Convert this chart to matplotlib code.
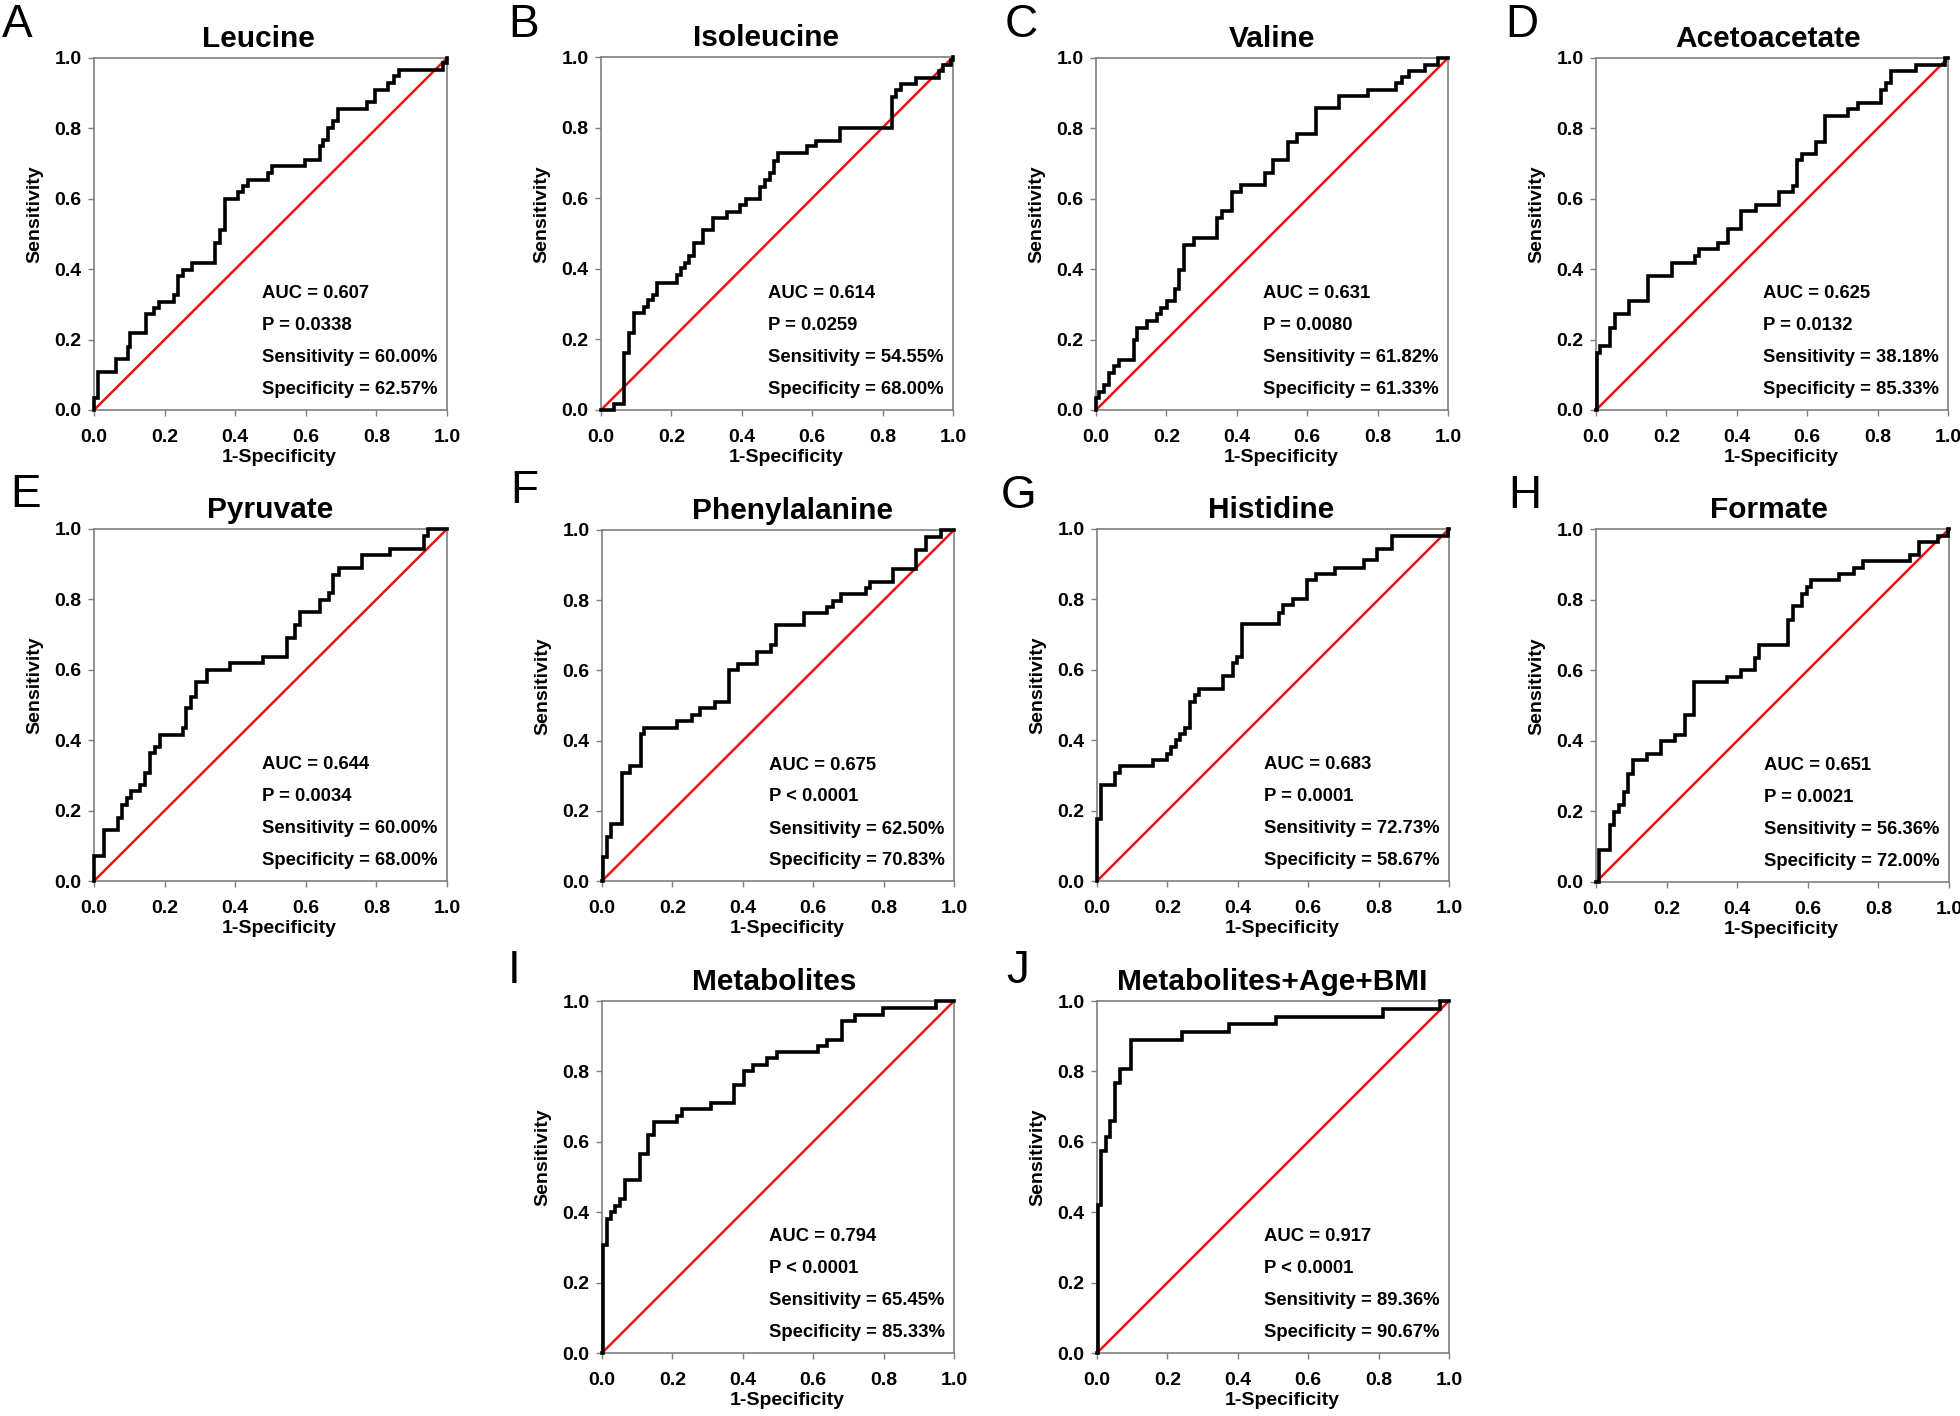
import matplotlib
matplotlib.use("Agg")
import matplotlib.pyplot as plt

plt.rcParams['font.family'] = ['Liberation Sans', 'DejaVu Sans']

# ---------------- data ----------------
letters = ["A", "B", "C", "D", "E", "F", "G", "H", "I", "J"]
titles = ["Leucine", "Isoleucine", "Valine", "Acetoacetate", "Pyruvate",
          "Phenylalanine", "Histidine", "Formate", "Metabolites",
          "Metabolites+Age+BMI"]
auc_values = ["0.607", "0.614", "0.631", "0.625", "0.644", "0.675", "0.683",
              "0.651", "0.794", "0.917"]
p_values = ["= 0.0338", "= 0.0259", "= 0.0080", "= 0.0132", "= 0.0034",
            "< 0.0001", "= 0.0001", "= 0.0021", "< 0.0001", "< 0.0001"]
sensitivity_values = ["60.00%", "54.55%", "61.82%", "38.18%", "60.00%",
                      "62.50%", "72.73%", "56.36%", "65.45%", "89.36%"]
specificity_values = ["62.57%", "68.00%", "61.33%", "85.33%", "68.00%",
                      "70.83%", "58.67%", "72.00%", "85.33%", "90.67%"]

leucine_fpr = [0, 0, 0.011, 0.063, 0.095, 0.103, 0.147, 0.169, 0.184, 0.226, 0.237,
               0.253, 0.279, 0.343, 0.357, 0.371, 0.409, 0.423, 0.437, 0.494, 0.503,
               0.598, 0.639, 0.650, 0.664, 0.676, 0.690, 0.773, 0.797, 0.834, 0.849,
               0.863, 0.990, 1.0]
leucine_tpr = [0, 0.033, 0.109, 0.144, 0.180, 0.218, 0.272, 0.289, 0.308, 0.327, 0.381,
               0.398, 0.417, 0.474, 0.512, 0.599, 0.618, 0.635, 0.654, 0.673, 0.692,
               0.709, 0.749, 0.768, 0.801, 0.820, 0.855, 0.874, 0.910, 0.929, 0.948,
               0.967, 0.986, 1.0]

isoleucine_fpr = [0, 0.037, 0.065, 0.080, 0.094, 0.122, 0.134, 0.149, 0.158, 0.215,
                  0.226, 0.238, 0.251, 0.264, 0.290, 0.317, 0.357, 0.396, 0.412, 0.453,
                  0.465, 0.480, 0.491, 0.503, 0.586, 0.612, 0.680, 0.828, 0.839, 0.853,
                  0.894, 0.960, 0.972, 0.995, 1.0]
isoleucine_tpr = [0, 0.017, 0.161, 0.217, 0.274, 0.293, 0.312, 0.326, 0.361, 0.383,
                  0.401, 0.416, 0.435, 0.473, 0.510, 0.543, 0.562, 0.581, 0.598, 0.633,
                  0.652, 0.671, 0.704, 0.728, 0.747, 0.761, 0.799, 0.887, 0.907, 0.924,
                  0.940, 0.959, 0.978, 0.992, 1.0]

valine_fpr = [0, 0, 0.0095, 0.022, 0.036, 0.050, 0.064, 0.107, 0.116, 0.145, 0.173,
              0.185, 0.201, 0.225, 0.237, 0.250, 0.277, 0.345, 0.359, 0.386, 0.411,
              0.480, 0.504, 0.546, 0.570, 0.625, 0.691, 0.773, 0.853, 0.868, 0.889,
              0.934, 0.972, 1.0]
valine_tpr = [0, 0.033, 0.050, 0.070, 0.106, 0.125, 0.142, 0.200, 0.234, 0.253, 0.272,
              0.290, 0.309, 0.344, 0.399, 0.470, 0.489, 0.546, 0.565, 0.619, 0.639,
              0.674, 0.709, 0.761, 0.783, 0.858, 0.891, 0.910, 0.929, 0.945, 0.964,
              0.981, 1.0, 1.0]

acetoacetate_fpr = [0, 0.003, 0.012, 0.041, 0.055, 0.095, 0.147, 0.215, 0.282, 0.293,
                    0.348, 0.374, 0.411, 0.455, 0.521, 0.559, 0.570, 0.584, 0.625, 0.650,
                    0.716, 0.745, 0.811, 0.825, 0.839, 0.908, 0.991, 1.0]
acetoacetate_tpr = [0, 0.163, 0.182, 0.234, 0.272, 0.309, 0.382, 0.418, 0.437, 0.456,
                    0.475, 0.513, 0.565, 0.582, 0.619, 0.636, 0.709, 0.728, 0.761, 0.836,
                    0.855, 0.872, 0.910, 0.929, 0.964, 0.981, 1.0, 1.0]

pyruvate_fpr = [0, 0, 0.028, 0.068, 0.080, 0.094, 0.106, 0.130, 0.144, 0.158, 0.172,
                0.186, 0.251, 0.262, 0.276, 0.290, 0.319, 0.385, 0.480, 0.546, 0.570,
                0.584, 0.640, 0.667, 0.678, 0.693, 0.759, 0.839, 0.934, 0.946, 1.0]
pyruvate_tpr = [0, 0.071, 0.146, 0.179, 0.217, 0.236, 0.255, 0.274, 0.307, 0.364, 0.381,
                0.415, 0.434, 0.491, 0.524, 0.564, 0.600, 0.618, 0.637, 0.689, 0.727,
                0.765, 0.798, 0.817, 0.869, 0.888, 0.925, 0.942, 0.979, 1.0, 1.0]

phenylalanine_fpr = [0, 0.003, 0.014, 0.026, 0.057, 0.080, 0.111, 0.120, 0.213, 0.255,
                     0.279, 0.322, 0.360, 0.386, 0.440, 0.481, 0.495, 0.574, 0.640, 0.655,
                     0.678, 0.750, 0.760, 0.828, 0.892, 0.920, 0.962, 1.0]
phenylalanine_tpr = [0, 0.069, 0.126, 0.162, 0.308, 0.327, 0.420, 0.436, 0.456, 0.474,
                     0.493, 0.510, 0.600, 0.619, 0.652, 0.671, 0.728, 0.763, 0.782, 0.799,
                     0.818, 0.835, 0.853, 0.889, 0.943, 0.979, 1.0, 1.0]

histidine_fpr = [0, 0, 0.011, 0.052, 0.064, 0.159, 0.198, 0.211, 0.225, 0.236, 0.251,
                 0.263, 0.278, 0.291, 0.357, 0.386, 0.397, 0.411, 0.516, 0.529, 0.558,
                 0.597, 0.622, 0.676, 0.758, 0.796, 0.839, 0.997, 1.0]
histidine_tpr = [0, 0.177, 0.272, 0.307, 0.326, 0.345, 0.362, 0.381, 0.400, 0.419, 0.436,
                 0.509, 0.527, 0.546, 0.581, 0.619, 0.636, 0.729, 0.761, 0.783, 0.802,
                 0.856, 0.873, 0.890, 0.911, 0.944, 0.981, 1.0, 1.0]

formate_fpr = [0, 0.009, 0.040, 0.051, 0.066, 0.079, 0.092, 0.106, 0.144, 0.183, 0.224,
               0.252, 0.278, 0.372, 0.410, 0.450, 0.463, 0.545, 0.557, 0.583, 0.597,
               0.608, 0.689, 0.731, 0.757, 0.890, 0.916, 0.970, 0.998, 1.0]
formate_tpr = [0, 0.090, 0.161, 0.199, 0.218, 0.255, 0.307, 0.345, 0.364, 0.400, 0.416,
               0.473, 0.566, 0.582, 0.601, 0.634, 0.672, 0.743, 0.781, 0.816, 0.835,
               0.856, 0.873, 0.889, 0.910, 0.927, 0.962, 0.981, 1.0, 1.0]

metabolites_fpr = [0, 0.003, 0.014, 0.026, 0.038, 0.052, 0.066, 0.107, 0.132, 0.147,
                   0.213, 0.227, 0.309, 0.375, 0.402, 0.429, 0.468, 0.497, 0.615, 0.639,
                   0.681, 0.719, 0.799, 0.949, 1.0]
metabolites_tpr = [0, 0.308, 0.382, 0.401, 0.418, 0.437, 0.491, 0.566, 0.618, 0.656,
                   0.673, 0.692, 0.709, 0.761, 0.800, 0.819, 0.837, 0.854, 0.873, 0.890,
                   0.943, 0.960, 0.979, 1.0, 1.0]

combined_fpr = [0, 0.002, 0.011, 0.026, 0.038, 0.052, 0.064, 0.096, 0.241, 0.376, 0.509,
                0.813, 0.974, 1.0]
combined_tpr = [0, 0.421, 0.574, 0.614, 0.659, 0.766, 0.806, 0.888, 0.912, 0.936, 0.955,
                0.978, 1.0, 1.0]

all_fpr = [leucine_fpr, isoleucine_fpr, valine_fpr, acetoacetate_fpr, pyruvate_fpr,
           phenylalanine_fpr, histidine_fpr, formate_fpr, metabolites_fpr, combined_fpr]
all_tpr = [leucine_tpr, isoleucine_tpr, valine_tpr, acetoacetate_tpr, pyruvate_tpr,
           phenylalanine_tpr, histidine_tpr, formate_tpr, metabolites_tpr, combined_tpr]

tick_values = [0.0, 0.2, 0.4, 0.6, 0.8, 1.0]
tick_labels = ["0.0", "0.2", "0.4", "0.6", "0.8", "1.0"]

# ---------------- layout (pixels in a 1960x1416 canvas) ----------------
W, H = 1960, 1416
axes_px = [  # left, right, top, bottom
    (94, 447, 58, 410), (601, 953, 57, 410), (1096, 1448, 58, 410), (1596, 1948, 58, 410),
    (94, 447, 529, 881), (602, 954, 530, 881), (1097, 1449, 529, 881), (1596, 1949, 529, 882),
    (602, 954, 1001, 1353), (1097, 1449, 1001, 1353),
]
letter_px = [(2, 37), (508, 37), (1005, 37), (1505, 37),
             (10, 507), (510, 503), (1001, 508), (1508, 508),
             (508, 983), (1006, 983)]
title_x = [0.465, 0.47, 0.5, 0.49, 0.5, 0.54, 0.495, 0.49, 0.49, 0.497]

spine_color = "#7f7f7f"

fig = plt.figure(figsize=(W / 100, H / 100), dpi=100)

for i in range(10):
    l, r, t, b = axes_px[i]
    ax = fig.add_axes([l / W, 1 - b / H, (r - l) / W, (b - t) / H])
    ax.plot([0, 1], [0, 1], color="#ee1111", lw=1.8, zorder=2, clip_on=False)
    ax.plot(all_fpr[i], all_tpr[i], drawstyle="steps-post", color="black", lw=2.6,
            zorder=3, clip_on=False, solid_joinstyle="miter")
    ax.set_xlim(0, 1)
    ax.set_ylim(0, 1)
    ax.set_xticks(tick_values)
    ax.set_yticks(tick_values)
    ax.set_xticklabels(tick_labels, fontsize=14, fontweight="bold")
    ax.set_yticklabels(tick_labels, fontsize=14, fontweight="bold")
    ax.tick_params(axis="x", direction="out", length=4, width=1, color=spine_color, pad=9.5)
    ax.tick_params(axis="y", direction="out", length=4, width=1, color=spine_color, pad=5)
    for s in ax.spines.values():
        s.set_color(spine_color)
        s.set_linewidth(1.2)
    ax.set_xlabel("1-Specificity", fontsize=14, fontweight="bold", labelpad=2, x=0.525)
    ax.set_ylabel("Sensitivity", fontsize=14, fontweight="bold", labelpad=8, y=0.555)
    ax.set_title(titles[i], fontsize=21.5, fontweight="bold", pad=8, x=title_x[i])

    lines = ["AUC = " + auc_values[i], "P " + p_values[i],
             "Sensitivity = " + sensitivity_values[i],
             "Specificity = " + specificity_values[i]]
    for txt, yy in zip(lines, [0.33, 0.24, 0.148, 0.057]):
        ax.text(0.475, yy, txt, transform=ax.transAxes, fontsize=13.3,
                fontweight="bold", va="center", ha="left")

    lx, ly = letter_px[i]
    fig.text(lx / W, 1 - ly / H, letters[i], fontsize=33, va="baseline", ha="left")

fig.savefig("out.png", dpi=100)
